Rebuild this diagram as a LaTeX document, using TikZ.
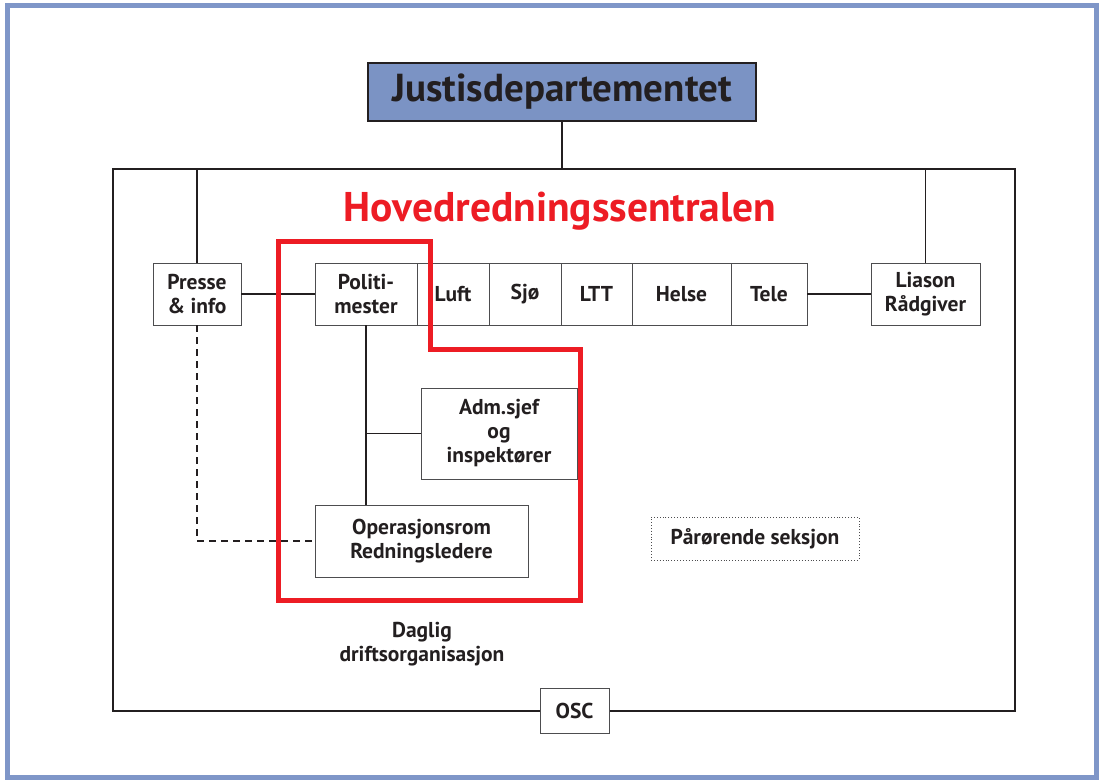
\documentclass[tikz,border=0pt]{standalone}
\usepackage{fontspec}
\setmainfont{PT Sans}
\definecolor{ink}{HTML}{231F20}
\definecolor{boxline}{HTML}{4D4D4F}
\definecolor{jblue}{HTML}{7B93C4}
\definecolor{frameblue}{HTML}{7F96C8}
\definecolor{hred}{HTML}{ED1C24}
\newcommand{\boxfont}{\fontsize{21.5}{24}\selectfont\bfseries}
\newcommand{\jfont}{\fontsize{39}{44}\selectfont\bfseries}
\newcommand{\tfont}{\fontsize{41.5}{46}\selectfont\bfseries}
\begin{document}
\begin{tikzpicture}[x=1pt,y=-1pt,
  box/.style={draw=boxline, line width=0.9pt, fill=white, inner sep=0pt, align=center, font=\boxfont, text=ink},
  conn/.style={draw=ink, line width=1.8pt},
  dconn/.style={draw=ink, line width=1.5pt, dash pattern=on 7pt off 5pt},
  redline/.style={draw=hred, line width=5pt, line join=miter},
  plain/.style={inner sep=0pt, align=center, font=\boxfont, text=ink}]
\useasboundingbox (0,0) rectangle (1102,781);
\draw[frameblue, line width=5pt] (7.5,5.5) rectangle (1096.5,777.5);

% main frame
\node[draw=ink, line width=2pt, minimum width=902pt, minimum height=542pt, inner sep=0pt] (hrs) at (564,440) {};

\node[box, draw=ink, line width=2pt, fill=jblue, minimum width=388pt, minimum height=58pt, font=\jfont] (justis) at (562,92) {Justisdepartementet};
\node[font=\tfont, text=hred, inner sep=0pt] (title) at (560,211) {Hovedredningssentralen};

% row of cells
\node[box, minimum width=102pt, minimum height=62pt] (politi) at (366,294) {Politi-\\mester};
\node[box, minimum width=72pt, minimum height=62pt] (luft) at (453,294) {Luft};
\node[box, minimum width=72pt, minimum height=62pt] (sjo) at (525,294) {Sjø};
\node[box, minimum width=71pt, minimum height=62pt] (ltt) at (596.5,294) {LTT};
\node[box, minimum width=99pt, minimum height=62pt] (helse) at (681.5,294) {Helse};
\node[box, minimum width=76pt, minimum height=62pt] (tele) at (769,294) {Tele};
\node[box, minimum width=88pt, minimum height=62pt] (presse) at (197,294) {Presse\\\& info};
\node[box, minimum width=109pt, minimum height=62pt] (liason) at (925.5,294) {Liason\\Rådgiver};

\node[box, minimum width=156pt, minimum height=91pt] (adm) at (499,433.5) {Adm.sjef\\og\\inspektører};
\node[box, minimum width=213pt, minimum height=72pt] (oper) at (421.5,541) {Operasjonsrom\\Redningsledere};
\node[box, dotted, line width=0.8pt, minimum width=208pt, minimum height=43pt] (paar) at (755,538.5) {Pårørende seksjon};
\node[plain] (daglig) at (422,644) {Daglig\\driftsorganisasjon};

% connectors
\draw[conn] (justis.south) -- (justis.south |- hrs.north);
\draw[conn] (presse.north) -- (presse.north |- hrs.north);
\draw[conn] (liason.north) -- (liason.north |- hrs.north);
\draw[conn] (presse.east) -- (politi.west);
\draw[conn] (tele.east) -- (liason.west);
\draw[conn] (politi.south) -- (politi.south |- oper.north);
\draw[conn] (politi.south |- adm.west) -- (adm.west);
\draw[dconn] (presse.south) |- (oper.west);

\node[box, minimum width=69pt, minimum height=45pt] (osc) at (574.5,710.5) {OSC};

% red outline
\draw[redline] (278,241) -- (430,241) -- (430,349) -- (580,349) -- (580,600) -- (278,600) -- cycle;
\end{tikzpicture}
\end{document}
